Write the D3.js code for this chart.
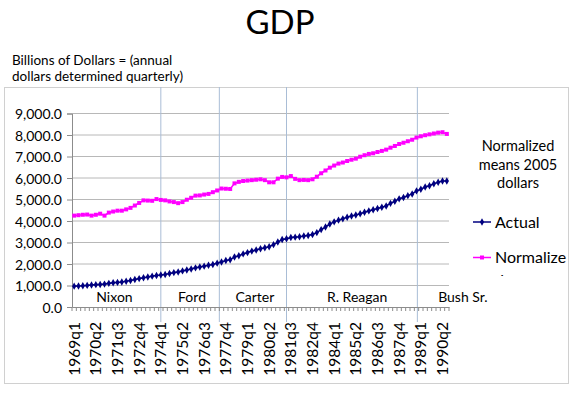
<!DOCTYPE html>
<html>
<head>
<meta charset="utf-8">
<script src="https://cdn.jsdelivr.net/npm/d3@7"></script>
<style>
  body { margin: 0; background: #fff; }
  svg text { font-family: Lato, "Open Sans", sans-serif; fill: #000; }
</style>
</head>
<body>
<svg id="chart"></svg>
<script>
// quarters 1969q1 .. 1990q3
const startYear = 1969;
const quarterCount = 87;
const quarters = [];
for (let i = 0; i < quarterCount; i++) {
  quarters.push((startYear + Math.floor(i / 4)) + "q" + (i % 4 + 1));
}

// nominal GDP, billions
const actual = [
  970, 980, 990, 1005, 1025, 1040, 1050, 1065,
  1100, 1125, 1145, 1165, 1200, 1230, 1280, 1320,
  1360, 1395, 1435, 1465, 1485, 1510, 1560, 1600,
  1625, 1680, 1720, 1770, 1820, 1860, 1900, 1940,
  1980, 2040, 2090, 2160, 2200, 2330, 2380, 2470,
  2530, 2600, 2650, 2710, 2760, 2800, 2900, 3020,
  3140, 3170, 3230, 3250, 3270, 3300, 3330, 3370,
  3460, 3600, 3720, 3860, 3960, 4040, 4100, 4170,
  4230, 4280, 4340, 4410, 4470, 4520, 4580, 4640,
  4700, 4820, 4920, 5030, 5090, 5180, 5260, 5400,
  5480, 5580, 5640, 5730, 5800, 5860, 5860
];

// normalized (2005 dollars)
const normalized = [
  4250, 4270, 4290, 4300, 4250, 4290, 4340, 4250,
  4390, 4440, 4480, 4480, 4540, 4610, 4720, 4840,
  4960, 4950, 4940, 5020, 4980, 4960, 4910, 4880,
  4830, 4880, 4990, 5080, 5180, 5190, 5230, 5260,
  5340, 5420, 5510, 5500, 5490, 5750, 5820, 5860,
  5880, 5900, 5920, 5940, 5900, 5800, 5800, 5970,
  6050, 6030, 6090, 5960, 5900, 5910, 5900, 5940,
  6060, 6220, 6350, 6480, 6580, 6670, 6720, 6790,
  6850, 6900, 6990, 7060, 7120, 7150, 7210, 7260,
  7320, 7410, 7490, 7580, 7640, 7710, 7780, 7880,
  7940, 7990, 8030, 8070, 8110, 8130, 8050
];

const yTicks = [0, 1000, 2000, 3000, 4000, 5000, 6000, 7000, 8000, 9000];
const presidents = ["Nixon", "Ford", "Carter", "R. Reagan", "Bush Sr."];
const presidentLabelAt = [9.3, 27.2, 41.7, 65.3, 89.7]; // in quarters
const termBreaks = [20, 33.5, 49, 79.2];                // in quarters
const noteLines = ["Normalized", "means 2005", "dollars"];

const W = 576, H = 395;
const margin = {top: 113.5, left: 72, right: 127, bottom: 88};
const width = W - margin.left - margin.right;
const height = H - margin.top - margin.bottom;

const svg = d3.select("#chart").attr("width", W).attr("height", H);

// outer chart border
svg.append("rect")
  .attr("x", 4.5).attr("y", 87.5)
  .attr("width", 564).attr("height", 296)
  .attr("fill", "none").attr("stroke", "#d0d0d0");

// title
svg.append("text")
  .attr("x", 280).attr("y", 34)
  .attr("text-anchor", "middle")
  .style("font-size", "33px")
  .text("GDP");

svg.append("text").attr("x", 12).attr("y", 65).style("font-size", "13.5px")
  .text("Billions of Dollars = (annual");
svg.append("text").attr("x", 12).attr("y", 81).style("font-size", "13.5px")
  .text("dollars determined quarterly)");

const g = svg.append("g").attr("transform", "translate(" + margin.left + "," + margin.top + ")");

const x = d3.scaleBand().domain(quarters).range([0, width]).padding(0);
const xq = d3.scaleLinear().domain([0, quarterCount]).range([0, width]);
const y = d3.scaleLinear().domain([0, 9000]).range([height, 0]);

// gridlines
g.selectAll(".grid").data(yTicks.slice(1)).join("line")
  .attr("x1", 0).attr("x2", width)
  .attr("y1", d => y(d)).attr("y2", d => y(d))
  .attr("stroke", "#b8b8b8").attr("stroke-width", 1);

// term breaks
g.selectAll(".term").data(termBreaks).join("line")
  .attr("x1", d => xq(d + 0.5)).attr("x2", d => xq(d + 0.5))
  .attr("y1", 87 - margin.top).attr("y2", height + 15)
  .attr("stroke", "#a9bdd6").attr("stroke-width", 1);

// y axis
const yAxis = g.append("g")
  .call(d3.axisLeft(y).tickValues(yTicks).tickSize(5).tickFormat(d3.format(",.1f")));
yAxis.select(".domain").attr("stroke", "#8c8c8c");
yAxis.selectAll(".tick line").attr("stroke", "#8c8c8c");
yAxis.selectAll(".tick text").attr("x", -10).attr("dy", "0.36em")
  .style("font-size", "14px").style("font-family", "Lato, sans-serif").attr("fill", "#000");

// x axis
const xAxis = g.append("g").attr("transform", "translate(0," + height + ")")
  .call(d3.axisBottom(x).tickSize(0).tickFormat((d, i) => i % 5 === 0 ? d : ""));
xAxis.select(".domain").attr("stroke", "#8c8c8c");
xAxis.selectAll(".tick text")
  .attr("transform", "rotate(-90)")
  .attr("text-anchor", "end")
  .attr("x", -15).attr("y", 0).attr("dy", "0.36em")
  .style("font-size", "15.5px").style("font-family", "Lato, sans-serif").attr("fill", "#000");
// minor ticks at every quarter boundary
g.append("g").selectAll("line").data(d3.range(quarterCount + 1)).join("line")
  .attr("x1", d => xq(d)).attr("x2", d => xq(d))
  .attr("y1", height).attr("y2", height + 4)
  .attr("stroke", "#8c8c8c");

// president names
g.selectAll(".pres").data(presidents).join("text")
  .attr("x", (d, i) => xq(presidentLabelAt[i] + 0.5))
  .attr("y", height - 5)
  .attr("text-anchor", "middle")
  .style("font-size", "14px")
  .text(d => d);

const line = d3.line()
  .x((d, i) => x(quarters[i]) + x.bandwidth() / 2)
  .y(d => y(d));

const series = [
  {name: "Actual", values: actual, color: "#000080", symbol: d3.symbolDiamond, size: 16},
  {name: "Normalized", values: normalized, color: "#ff00ff", symbol: d3.symbolSquare, size: 16}
];

series.forEach(s => {
  g.append("path").datum(s.values)
    .attr("d", line).attr("fill", "none")
    .attr("stroke", s.color).attr("stroke-width", 1.6);
  g.append("g").selectAll("path").data(s.values).join("path")
    .attr("transform", (d, i) => "translate(" + (x(quarters[i]) + x.bandwidth() / 2) + "," + y(d) + ")")
    .attr("d", d3.symbol().type(s.symbol).size(s.size))
    .attr("fill", s.color);
});

// side note
svg.selectAll(".note").data(noteLines).join("text")
  .attr("x", 518).attr("y", (d, i) => 151 + i * 18.5)
  .attr("text-anchor", "middle")
  .style("font-size", "14.5px")
  .text(d => d);

// legend (second line of "Normalized" is cut off by the chart box)
svg.append("clipPath").attr("id", "legclip")
  .append("rect").attr("x", 0).attr("y", 0).attr("width", 576).attr("height", 276);
const leg = svg.append("g").attr("clip-path", "url(#legclip)");
series.forEach((s, i) => {
  const ly = 222 + i * 35.5;
  leg.append("line").attr("x1", 473).attr("x2", 491).attr("y1", ly).attr("y2", ly)
    .attr("stroke", s.color).attr("stroke-width", 1.5);
  leg.append("path").attr("transform", "translate(482," + ly + ")")
    .attr("d", d3.symbol().type(s.symbol).size(s.size)).attr("fill", s.color);
});
leg.append("text").attr("x", 495).attr("y", 227.5).style("font-size", "16px").text("Actual");
leg.append("text").attr("x", 495).attr("y", 263).style("font-size", "16px").text("Normalize");
leg.append("text").attr("x", 495).attr("y", 286).style("font-size", "16px").text("d");
</script>
</body>
</html>
